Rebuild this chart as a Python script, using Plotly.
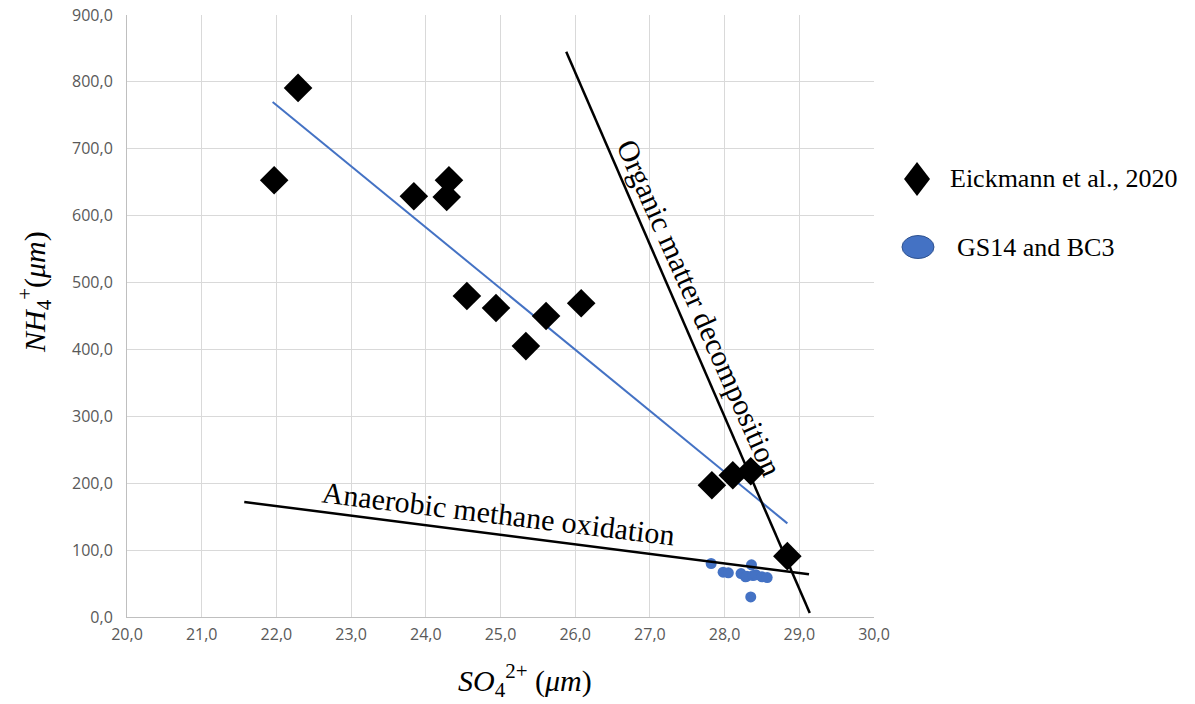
import plotly.graph_objects as go

# Eickmann et al., 2020 data (SO4 vs NH4)
eick_so4 = [21.97, 22.29, 23.84, 24.31, 24.28, 24.55, 24.94, 25.34, 25.61, 26.08, 27.83, 28.11, 28.35, 28.84]
eick_nh4 = [653, 791, 629, 653, 628, 480, 462, 405, 450, 469, 197, 212, 218, 91]

# GS14 and BC3 samples
gs_so4 = [27.82, 27.98, 28.05, 28.22, 28.28, 28.30, 28.35, 28.36, 28.38, 28.42, 28.50, 28.57]
gs_nh4 = [80, 67, 66, 65, 60, 61, 30, 78, 62, 63, 60, 59]

# Linear trend through the Eickmann data
trend_so4 = [21.95, 28.84]
trend_nh4 = [770, 140]

# Process lines
amo_so4 = [21.57, 29.13]
amo_nh4 = [172, 64]
omd_so4 = [25.88, 29.14]
omd_nh4 = [845, 6]

x_ticks = [20 + i for i in range(11)]
y_ticks = [100 * i for i in range(10)]

SERIF = "Liberation Serif, Times New Roman, serif"
BLUE = "#4472C4"

fig = go.Figure()

fig.add_trace(go.Scatter(
    x=trend_so4, y=trend_nh4, mode="lines",
    line=dict(color=BLUE, width=2), showlegend=False, hoverinfo="skip"))

fig.add_trace(go.Scatter(
    x=gs_so4, y=gs_nh4, mode="markers", name="GS14 and BC3",
    marker=dict(symbol="circle", size=11, color=BLUE), showlegend=False))

fig.add_trace(go.Scatter(
    x=eick_so4, y=eick_nh4, mode="markers", name="Eickmann et al., 2020",
    marker=dict(symbol="diamond", size=22, color="black"), showlegend=False))

fig.add_trace(go.Scatter(
    x=amo_so4, y=amo_nh4, mode="lines",
    line=dict(color="black", width=2.5), showlegend=False, hoverinfo="skip"))

fig.add_trace(go.Scatter(
    x=omd_so4, y=omd_nh4, mode="lines",
    line=dict(color="black", width=2.5), showlegend=False, hoverinfo="skip"))

tick_font = dict(family="Open Sans, sans-serif", size=16, color="#595959")

fig.update_xaxes(
    range=[20, 30], tickvals=x_ticks, tickformat=".1f",
    showgrid=True, gridcolor="#D9D9D9", gridwidth=1,
    showline=True, linecolor="#BFBFBF", linewidth=1,
    zeroline=False, ticks="", tickfont=tick_font,
    ticklabelstandoff=3, automargin=False)
fig.update_yaxes(
    range=[0, 900], tickvals=y_ticks, tickformat=".1f",
    showgrid=True, gridcolor="#D9D9D9", gridwidth=1,
    showline=True, linecolor="#BFBFBF", linewidth=1,
    zeroline=False, ticks="", tickfont=tick_font,
    ticklabelstandoff=10, automargin=False)

annotations = [
    dict(x=24.97, y=154, xref="x", yref="y", text="Anaerobic methane oxidation",
         showarrow=False, textangle=7, xanchor="center", yanchor="middle",
         font=dict(family=SERIF, size=30, color="black")),
    dict(x=27.66, y=462, xref="x", yref="y", text="Organic matter decomposition",
         showarrow=False, textangle=66, xanchor="center", yanchor="middle",
         font=dict(family=SERIF, size=30, color="black")),
    # axis titles
    dict(x=-0.123, y=0.54, xref="paper", yref="paper",
         text="<i>NH</i><sub>4</sub><sup>+</sup>(<i>μm</i>)",
         showarrow=False, textangle=-90, xanchor="center", yanchor="middle",
         font=dict(family=SERIF, size=30, color="black")),
    dict(x=0.533, y=-0.106, xref="paper", yref="paper",
         text="<i>SO</i><sub>4</sub><sup>2+</sup> (<i>μm</i>)",
         showarrow=False, xanchor="center", yanchor="middle",
         font=dict(family=SERIF, size=30, color="black")),
    # legend labels
    dict(x=1.099, y=0.7276, xref="paper", yref="paper", xanchor="left", yanchor="middle",
         text="Eickmann et al., 2020", showarrow=False,
         font=dict(family=SERIF, size=26, color="black")),
    dict(x=1.108, y=0.6146, xref="paper", yref="paper", xanchor="left", yanchor="middle",
         text="GS14 and BC3", showarrow=False,
         font=dict(family=SERIF, size=26, color="black")),
]

shapes = [
    dict(type="path", xref="paper", yref="paper", xsizemode="pixel", ysizemode="pixel",
         xanchor=1.0576, yanchor=0.7276, path="M0,17 L13,0 L0,-17 L-13,0 Z",
         fillcolor="black", line=dict(width=0)),
    dict(type="circle", xref="paper", yref="paper", xsizemode="pixel", ysizemode="pixel",
         xanchor=1.0589, yanchor=0.6146, x0=-16, x1=16, y0=-11.5, y1=11.5,
         fillcolor=BLUE, line=dict(color="#2F528F", width=1)),
]

fig.update_layout(
    width=1195, height=704,
    margin=dict(l=127, r=321, t=15, b=87),
    paper_bgcolor="white", plot_bgcolor="white",
    separators=",.",
    showlegend=False,
    annotations=annotations,
    shapes=shapes,
)

fig.write_html("out.html")
